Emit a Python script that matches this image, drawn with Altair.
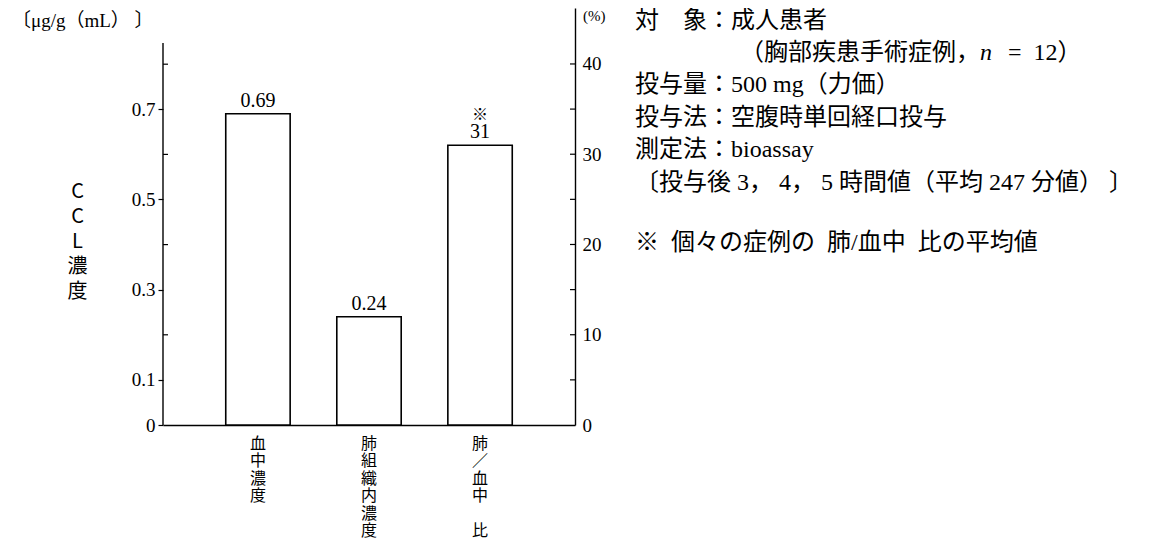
import altair as alt
import pandas as pd

NB = "\u00a0"   # non-breaking space (kept by SVG)
ZW = "\u200b"   # zero-width char used as an empty label line (not trimmed)

# ---------------- data ----------------
categories = ["血中濃度", "肺組織内濃度", "肺／血中　比"]
conc_categories = ["血中濃度", "肺組織内濃度"]
conc_values = [0.69, 0.24]          # μg/g (mL)
conc_labels = ["0.69", "0.24"]
ratio_categories = ["肺／血中　比"]
ratio_values = [31]                 # %
ratio_labels = ["31"]
ratio_marks = ["※"]

left_labeled_ticks = [0, 0.1, 0.3, 0.5, 0.7]
left_minor_ticks = [0.2, 0.4, 0.6, 0.8]
right_labeled_ticks = [0, 10, 20, 30, 40]
right_ticks = [5, 10, 15, 20, 25, 30, 35, 40]

unit_label = "〔μg/g（mL）" + NB + "〕"
pct_label = "(%)"
y_title = ["C", "C", "L", "濃", "度"]

note_lines = [
    "対　象：成人患者",
    "（胸部疾患手術症例，",
    "n",
    "=" + NB + NB + "12）",
    "投与量：500 mg（力価）",
    "投与法：空腹時単回経口投与",
    "測定法：bioassay",
    "〔投与後" + NB + "3，" + NB + "4，" + NB + "5" + NB + "時間値（平均" + NB + "247" + NB + "分値）" + NB + "〕",
    "※" + NB + NB + "個々の症例の" + NB + NB + "肺/血中" + NB + NB + "比の平均値",
]

# ---------------- layout ----------------
W, H = 412, 417
DL = 0.9246    # left scale top
DR = 46.2      # right scale top (%)
LEFT_AXIS_TOP = 0.847

SERIF = "Liberation Serif"
MIX = "Liberation Serif, Noto Sans CJK JP"
CJK = "Noto Sans CJK JP"

conc_df = pd.DataFrame({"cat": conc_categories, "v": conc_values, "lab": conc_labels})
ratio_df = pd.DataFrame({"cat": ratio_categories, "v": ratio_values, "lab": ratio_labels, "mk": ratio_marks})
left_minor_df = pd.DataFrame({"v": left_minor_ticks})
right_tick_df = pd.DataFrame({"v": right_ticks})

x_enc = alt.X(
    "cat:N",
    sort=categories,
    scale=alt.Scale(domain=categories, paddingInner=0.42, paddingOuter=0.565),
    axis=alt.Axis(
        title=None, orient="bottom", ticks=False, domain=True, domainColor="black",
        domainWidth=1.4, labelAngle=0,
        labelExpr="split(replace(datum.label, '　', '" + ZW + "'), '')",
        labelFont=CJK, labelFontSize=16, labelLineHeight=17.5, labelBaseline="top",
        labelPadding=10, labelColor="black", grid=False,
    ),
)

left_axis = alt.Axis(
    title=y_title, titleAngle=0, titleFont=CJK, titleFontSize=20, titleFontWeight="normal",
    titleLineHeight=25, titleAlign="center", titleBaseline="top", titleX=-86, titleY=173,
    titleColor="black",
    values=left_labeled_ticks,
    labelExpr="datum.value == 0 ? '0' : format(datum.value, '.1f')",
    labelFont=SERIF, labelFontSize=19, labelColor="black", labelPadding=3,
    tickSize=5, tickColor="black", tickWidth=1.2, domain=False, grid=False,
)
left_scale = alt.Scale(domain=[0, DL], nice=False, zero=True)
yL = alt.Y("v:Q", scale=left_scale, axis=left_axis)

right_axis = alt.Axis(
    title=None, orient="right", values=right_labeled_ticks, format="d",
    labelFont=SERIF, labelFontSize=19, labelColor="black", labelPadding=7,
    ticks=False, domain=True, domainColor="black", domainWidth=1.4, grid=False,
)
right_scale = alt.Scale(domain=[0, DR], nice=False, zero=True)
yR = alt.Y("v:Q", scale=right_scale, axis=right_axis)

bar_style = dict(fill="white", stroke="black", strokeWidth=1.6)

bars_left = alt.Chart(conc_df).mark_bar(**bar_style).encode(x=x_enc, y=yL)
text_left = alt.Chart(conc_df).mark_text(font=SERIF, fontSize=20, baseline="bottom", dy=-3, color="black").encode(
    x=x_enc, y=yL, text="lab:N")
left_rule = alt.Chart(pd.DataFrame({"v": [0]})).mark_rule(color="black", strokeWidth=1.4).encode(
    x=alt.value(0), y=yL, y2=alt.datum(LEFT_AXIS_TOP))
left_minor = alt.Chart(left_minor_df).mark_rule(color="black", strokeWidth=1.2).encode(
    x=alt.value(0), x2=alt.value(5), y=yL)

left_group = alt.layer(bars_left, text_left, left_rule, left_minor)

bars_right = alt.Chart(ratio_df).mark_bar(**bar_style).encode(x=x_enc, y=yR)
text_right = alt.Chart(ratio_df).mark_text(font=SERIF, fontSize=20, baseline="bottom", dy=-3,
                                           color="black").encode(x=x_enc, y=yR, text="lab:N")
mark_right = alt.Chart(ratio_df).mark_text(font=MIX, fontSize=16, baseline="bottom", dy=-22,
                                           color="black").encode(x=x_enc, y=yR, text="mk:N")
right_minor = alt.Chart(right_tick_df).mark_rule(color="black", strokeWidth=1.2).encode(
    x=alt.value(W - 5), x2=alt.value(W), y=yR)
right_group = alt.layer(bars_right, text_right, mark_right, right_minor)


def note(text, x, y, size=24, font=MIX, style="normal", align="left"):
    return alt.Chart(pd.DataFrame({"t": [text]})).mark_text(
        font=font, fontSize=size, fontStyle=style, align=align, baseline="middle", color="black"
    ).encode(x=alt.value(x), y=alt.value(y), text="t:N")


X0 = 472  # page x 635 relative to plot left (163)
notes = [
    note(unit_label, -151, 13, size=19),
    note(pct_label, 420, 8, size=15, font=SERIF),
    note(note_lines[0], X0, 13),
    note(note_lines[1], 577, 45),
    note(note_lines[2], 817, 45, font=SERIF, style="italic"),
    note(note_lines[3], 845, 45),
    note(note_lines[4], X0, 77),
    note(note_lines[5], X0, 110),
    note(note_lines[6], X0, 142),
    note(note_lines[7], X0, 175),
    note(note_lines[8], X0, 235),
]

chart = alt.layer(left_group, right_group, *notes).resolve_scale(y="independent").properties(
    width=W, height=H,
    background="white",
    autosize=alt.AutoSizeParams(type="none"),
    padding={"left": 155, "top": 0, "right": 566, "bottom": 116},
).configure_view(stroke=None)

chart.save("out.html", embed_options={"renderer": "svg", "actions": False})
